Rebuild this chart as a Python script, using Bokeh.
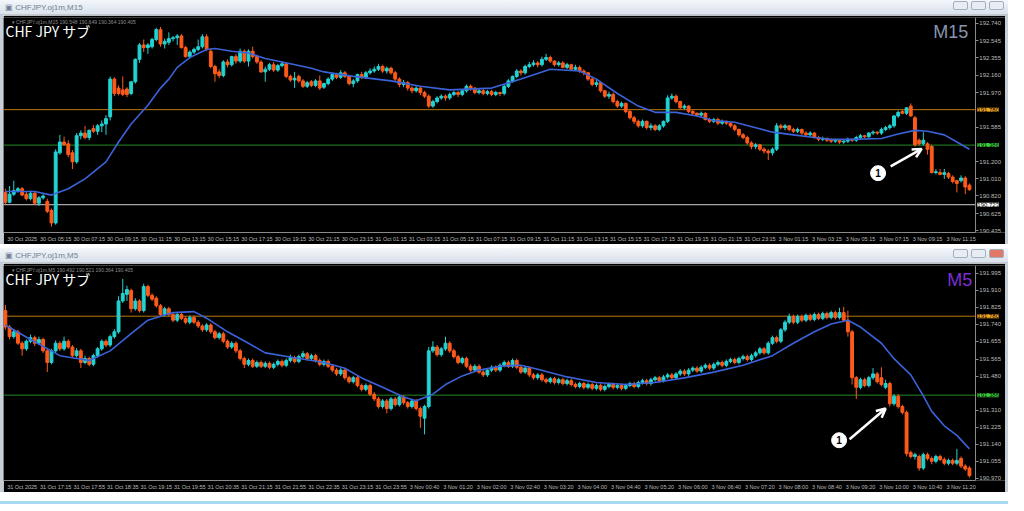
from bokeh.plotting import figure
from bokeh.models import (Range1d, FixedTicker, LinearAxis, Label, Arrow, OpenHead,
                          Div, ColumnDataSource, NumeralTickFormatter)
from bokeh.layouts import column, row
from bokeh.embed import file_html
from bokeh.resources import INLINE
from bokeh.core.properties import value

# ---------------- M15 panel (top) ----------------
top_open = [190.86,190.75,190.84,190.88,190.90,190.84,190.79,190.85,190.74,190.80,
 190.76,190.66,190.52,191.30,191.42,191.40,191.30,191.20,191.49,191.52,
 191.47,191.57,191.54,191.60,191.62,191.70,192.12,192.02,192.00,192.01,
 191.96,192.09,192.34,192.50,192.47,192.48,192.56,192.67,192.51,192.53,
 192.57,192.58,192.60,192.47,192.37,192.42,192.45,192.48,192.59,192.43,
 192.26,192.20,192.16,192.31,192.28,192.37,192.32,192.43,192.32,192.43,
 192.37,192.31,192.20,192.23,192.28,192.22,192.27,192.29,192.15,192.11,
 192.15,192.10,192.04,192.09,192.05,192.10,192.03,192.07,192.12,192.17,
 192.14,192.19,192.15,192.07,192.10,192.17,192.14,192.19,192.21,192.23,
 192.26,192.21,192.24,192.19,192.12,192.06,192.08,192.02,191.99,192.02,
 191.97,191.93,191.82,191.87,191.91,191.93,191.91,191.95,191.97,191.95,
 191.99,192.04,192.02,191.97,191.99,191.96,191.98,191.95,191.97,191.96,
 192.04,192.10,192.15,192.21,192.19,192.26,192.28,192.30,192.28,192.34,
 192.36,192.32,192.28,192.30,192.25,192.28,192.23,192.25,192.21,192.19,
 192.12,192.06,192.08,191.99,191.93,191.95,191.87,191.82,191.85,191.76,
 191.69,191.65,191.60,191.65,191.58,191.60,191.56,191.60,191.65,191.91,
 191.93,191.87,191.80,191.82,191.76,191.74,191.72,191.74,191.67,191.65,
 191.67,191.63,191.65,191.63,191.60,191.56,191.50,191.47,191.41,191.37,
 191.39,191.34,191.32,191.30,191.34,191.60,191.58,191.60,191.56,191.54,
 191.56,191.52,191.50,191.52,191.47,191.45,191.46,191.44,191.43,191.44,
 191.42,191.43,191.45,191.44,191.47,191.49,191.48,191.52,191.53,191.52,
 191.56,191.58,191.60,191.71,191.76,191.74,191.82,191.69,191.44,191.40,
 191.40,191.37,191.08,191.08,191.06,191.07,191.03,190.99,190.99,191.02,
 190.94]
top_high = [190.90,190.93,190.99,190.92,190.92,190.87,190.88,190.87,190.82,190.84,
 190.79,190.68,191.34,191.50,191.48,191.44,191.33,191.52,191.55,191.60,
 191.56,191.61,191.62,191.66,191.72,192.15,192.14,192.05,192.15,192.03,
 192.10,192.35,192.52,192.56,192.52,192.58,192.69,192.70,192.57,192.64,
 192.60,192.62,192.62,192.49,192.44,192.47,192.56,192.62,192.62,192.46,
 192.28,192.23,192.33,192.34,192.38,192.40,192.46,192.45,192.45,192.48,
 192.39,192.33,192.26,192.30,192.31,192.29,192.32,192.31,192.17,192.20,
 192.17,192.12,192.10,192.11,192.12,192.16,192.08,192.14,192.19,192.19,
 192.22,192.21,192.16,192.12,192.18,192.20,192.21,192.24,192.26,192.29,
 192.28,192.26,192.26,192.21,192.14,192.11,192.10,192.04,192.04,192.03,
 191.99,191.95,191.89,191.93,191.95,191.95,191.97,191.99,191.99,192.01,
 192.06,192.06,192.03,192.01,192.01,192.00,192.00,191.99,191.98,192.06,
 192.12,192.16,192.23,192.23,192.28,192.31,192.33,192.32,192.37,192.40,
 192.38,192.33,192.32,192.32,192.30,192.29,192.28,192.27,192.23,192.20,
 192.14,192.11,192.10,192.00,191.98,191.97,191.89,191.87,191.86,191.78,
 191.71,191.67,191.67,191.66,191.63,191.62,191.62,191.66,191.94,191.96,
 191.95,191.88,191.84,191.83,191.78,191.75,191.76,191.75,191.69,191.69,
 191.69,191.67,191.66,191.64,191.62,191.57,191.52,191.49,191.43,191.41,
 191.40,191.36,191.34,191.36,191.63,191.62,191.62,191.61,191.58,191.58,
 191.57,191.54,191.54,191.53,191.49,191.48,191.47,191.46,191.46,191.45,
 191.45,191.47,191.46,191.49,191.51,191.50,191.53,191.55,191.54,191.58,
 191.60,191.62,191.72,191.77,191.78,191.81,191.85,191.71,191.46,191.53,
 191.42,191.39,191.12,191.12,191.12,191.09,191.05,191.00,191.05,191.04,
 190.96]
top_low = [190.73,190.74,190.82,190.86,190.82,190.77,190.77,190.72,190.71,190.78,
 190.63,190.48,190.50,191.28,191.38,191.25,191.12,191.18,191.45,191.45,
 191.44,191.52,191.50,191.53,191.50,191.66,191.93,191.94,191.93,191.92,
 191.94,192.07,192.30,192.42,192.40,192.46,192.54,192.48,192.46,192.50,
 192.54,192.50,192.46,192.36,192.35,192.40,192.43,192.46,192.43,192.24,
 192.09,192.13,192.14,192.25,192.26,192.29,192.30,192.30,192.26,192.35,
 192.29,192.19,192.09,192.21,192.20,192.20,192.25,192.13,192.09,192.02,
 192.08,192.02,192.02,192.03,192.03,192.00,192.01,192.05,192.10,192.12,
 192.12,192.13,192.05,192.03,192.08,192.12,192.12,192.17,192.19,192.21,
 192.19,192.18,192.17,192.10,192.03,192.03,191.99,191.96,191.97,191.94,
 191.91,191.80,191.80,191.85,191.89,191.88,191.89,191.93,191.92,191.93,
 191.97,191.99,191.95,191.95,191.94,191.94,191.93,191.93,191.93,191.94,
 192.02,192.08,192.13,192.16,192.17,192.24,192.26,192.25,192.26,192.32,
 192.30,192.26,192.26,192.24,192.23,192.21,192.21,192.19,192.16,192.10,
 192.04,192.03,191.97,191.91,191.90,191.85,191.80,191.80,191.74,191.67,
 191.62,191.58,191.58,191.56,191.55,191.54,191.54,191.58,191.63,191.89,
 191.85,191.79,191.78,191.74,191.72,191.70,191.70,191.66,191.63,191.63,
 191.61,191.61,191.61,191.58,191.54,191.48,191.45,191.39,191.34,191.34,
 191.32,191.29,191.22,191.27,191.32,191.56,191.55,191.54,191.52,191.52,
 191.50,191.48,191.48,191.46,191.43,191.43,191.42,191.41,191.41,191.40,
 191.40,191.41,191.42,191.42,191.45,191.46,191.46,191.50,191.50,191.50,
 191.54,191.56,191.58,191.69,191.73,191.72,191.70,191.37,191.38,191.38,
 191.28,191.07,191.06,191.05,191.01,191.01,190.96,190.86,190.97,190.84,
 190.88]
top_close = [190.75,190.84,190.88,190.90,190.83,190.79,190.85,190.74,190.80,190.82,
 190.65,190.52,191.31,191.42,191.39,191.28,191.20,191.49,191.52,191.47,
 191.55,191.54,191.60,191.62,191.68,192.12,191.96,191.96,191.95,191.95,
 192.09,192.34,192.50,192.47,192.50,192.56,192.67,192.51,192.54,192.57,
 192.58,192.60,192.47,192.37,192.42,192.45,192.48,192.59,192.45,192.26,
 192.18,192.16,192.31,192.28,192.37,192.32,192.43,192.32,192.43,192.37,
 192.31,192.20,192.23,192.28,192.22,192.27,192.29,192.15,192.11,192.13,
 192.10,192.04,192.08,192.05,192.10,192.02,192.07,192.12,192.17,192.14,
 192.19,192.15,192.07,192.10,192.17,192.14,192.19,192.21,192.23,192.26,
 192.21,192.24,192.19,192.12,192.06,192.08,192.02,191.99,192.02,191.97,
 191.93,191.82,191.87,191.91,191.93,191.91,191.95,191.97,191.95,191.99,
 192.04,192.02,191.97,191.99,191.96,191.98,191.95,191.97,191.96,192.04,
 192.10,192.15,192.21,192.19,192.26,192.28,192.30,192.28,192.34,192.36,
 192.32,192.28,192.30,192.25,192.28,192.23,192.25,192.21,192.19,192.12,
 192.06,192.08,191.99,191.93,191.95,191.87,191.82,191.85,191.76,191.69,
 191.65,191.60,191.65,191.58,191.60,191.56,191.60,191.65,191.91,191.93,
 191.87,191.80,191.82,191.76,191.74,191.72,191.74,191.67,191.65,191.67,
 191.63,191.65,191.63,191.60,191.56,191.50,191.47,191.41,191.37,191.39,
 191.34,191.32,191.30,191.34,191.60,191.58,191.60,191.56,191.54,191.56,
 191.52,191.50,191.52,191.47,191.45,191.46,191.44,191.43,191.44,191.42,
 191.43,191.45,191.44,191.47,191.49,191.48,191.52,191.53,191.52,191.56,
 191.58,191.60,191.71,191.75,191.74,191.80,191.71,191.39,191.40,191.44,
 191.34,191.08,191.09,191.06,191.08,191.03,190.98,190.96,191.02,190.92,
 190.89]
top_ma_idx = [0,7,11,15,19,24,27,30,34,37,39,41,44,48,50,54,58,62,68,73,76,83,92,99,106,
              116,123,130,137,141,146,151,155,160,165,169,174,179,183,188,193,197,202,209,213,
              217,220,224,227,230]
top_ma = [190.87,190.87,190.83,190.90,191.01,191.20,191.42,191.62,191.83,192.02,
          192.12,192.25,192.36,192.45,192.46,192.43,192.41,192.35,192.29,192.24,
          192.20,192.15,192.10,192.04,192.00,192.02,192.12,192.23,192.21,192.12,
          191.96,191.82,191.75,191.75,191.71,191.66,191.64,191.58,191.53,191.50,
          191.47,191.45,191.45,191.46,191.51,191.55,191.54,191.50,191.42,191.34]
top_yticks = [192.740, 192.545, 192.355, 192.160, 191.970, 191.585, 191.200,
              191.010, 190.820, 190.625, 190.435]
top_xlabels = ["30 Oct 2025", "30 Oct 05:15", "30 Oct 07:15", "30 Oct 09:15", "30 Oct 11:15",
               "30 Oct 13:15", "30 Oct 15:15", "30 Oct 17:15", "30 Oct 19:15", "30 Oct 21:15",
               "30 Oct 23:15", "31 Oct 01:15", "31 Oct 03:15", "31 Oct 05:15", "31 Oct 07:15",
               "31 Oct 09:15", "31 Oct 11:15", "31 Oct 13:15", "31 Oct 15:15", "31 Oct 17:15",
               "31 Oct 19:15", "31 Oct 21:15", "31 Oct 23:15", "3 Nov 01:15", "3 Nov 03:15",
               "3 Nov 05:15", "3 Nov 07:15", "3 Nov 09:15", "3 Nov 11:15"]
top_levels = [191.780, 191.386, 190.723]

# ---------------- M5 panel (bottom) ----------------
bot_open = [191.808,191.726,191.678,191.702,191.645,191.617,191.655,191.673,191.645,191.664,
 191.607,191.549,191.607,191.645,191.617,191.655,191.626,191.583,191.607,191.549,
 191.569,191.540,191.583,191.617,191.655,191.636,191.678,191.702,191.856,191.889,
 191.908,191.817,191.856,191.808,191.928,191.884,191.870,191.832,191.788,191.817,
 191.788,191.760,191.788,191.769,191.750,191.774,191.750,191.731,191.712,191.736,
 191.702,191.673,191.692,191.655,191.626,191.645,191.607,191.569,191.540,191.559,
 191.530,191.549,191.530,191.545,191.525,191.540,191.554,191.535,191.559,191.573,
 191.554,191.578,191.593,191.569,191.583,191.559,191.540,191.554,191.530,191.511,
 191.492,191.511,191.473,191.453,191.473,191.434,191.415,191.434,191.391,191.367,
 191.329,191.357,191.319,191.367,191.338,191.377,191.348,191.329,191.357,191.319,
 191.271,191.329,191.607,191.626,191.588,191.617,191.645,191.607,191.578,191.549,
 191.569,191.530,191.511,191.530,191.501,191.487,191.511,191.525,191.511,191.535,
 191.549,191.530,191.559,191.525,191.501,191.521,191.487,191.473,191.487,191.463,
 191.453,191.468,191.449,191.463,191.444,191.458,191.439,191.429,191.444,191.425,
 191.439,191.420,191.434,191.415,191.429,191.439,191.425,191.434,191.420,191.434,
 191.444,191.429,191.449,191.458,191.444,191.463,191.473,191.458,191.477,191.487,
 191.473,191.492,191.506,191.492,191.511,191.521,191.506,191.525,191.535,191.521,
 191.540,191.549,191.535,191.554,191.564,191.549,191.569,191.578,191.564,191.583,
 191.597,191.617,191.597,191.645,191.673,191.655,191.712,191.750,191.779,191.750,
 191.779,191.760,191.784,191.764,191.788,191.769,191.793,191.774,191.798,191.774,
 191.798,191.760,191.702,191.473,191.425,191.463,191.434,191.473,191.492,191.473,
 191.425,191.444,191.343,191.381,191.329,191.300,191.099,191.080,191.080,191.022,
 191.089,191.070,191.056,191.080,191.065,191.046,191.060,191.046,191.070,191.032,
 191.022]
bot_high = [191.836,191.736,191.716,191.712,191.655,191.664,191.688,191.683,191.678,191.673,
 191.617,191.617,191.659,191.655,191.678,191.664,191.636,191.621,191.617,191.583,
 191.578,191.593,191.626,191.664,191.664,191.688,191.716,191.880,191.966,191.932,
 191.918,191.870,191.865,191.942,191.937,191.894,191.880,191.841,191.827,191.827,
 191.798,191.798,191.798,191.779,191.784,191.784,191.760,191.740,191.745,191.745,
 191.712,191.702,191.702,191.664,191.655,191.655,191.617,191.578,191.569,191.569,
 191.559,191.559,191.554,191.554,191.549,191.564,191.564,191.569,191.588,191.583,
 191.588,191.607,191.602,191.593,191.593,191.569,191.564,191.564,191.540,191.521,
 191.521,191.521,191.482,191.482,191.482,191.444,191.444,191.444,191.401,191.377,
 191.367,191.367,191.377,191.377,191.386,191.386,191.357,191.367,191.367,191.329,
 191.338,191.626,191.655,191.636,191.626,191.678,191.655,191.617,191.588,191.578,
 191.578,191.540,191.540,191.540,191.511,191.521,191.535,191.535,191.545,191.559,
 191.559,191.569,191.569,191.535,191.530,191.530,191.497,191.497,191.497,191.473,
 191.477,191.477,191.473,191.473,191.468,191.468,191.449,191.453,191.453,191.449,
 191.449,191.444,191.444,191.439,191.449,191.449,191.444,191.444,191.444,191.453,
 191.453,191.458,191.468,191.468,191.473,191.482,191.482,191.487,191.497,191.497,
 191.501,191.516,191.516,191.521,191.530,191.530,191.535,191.545,191.545,191.549,
 191.559,191.559,191.564,191.573,191.573,191.578,191.588,191.588,191.593,191.607,
 191.626,191.626,191.655,191.683,191.683,191.721,191.760,191.793,191.788,191.788,
 191.788,191.793,191.793,191.798,191.798,191.803,191.803,191.808,191.808,191.822,
 191.827,191.808,191.712,191.482,191.473,191.473,191.482,191.521,191.501,191.525,
 191.463,191.453,191.391,191.391,191.338,191.309,191.109,191.099,191.089,191.099,
 191.099,191.080,191.089,191.089,191.075,191.070,191.070,191.118,191.080,191.041,
 191.032]
bot_low = [191.712,191.664,191.668,191.636,191.583,191.607,191.645,191.631,191.636,191.597,
 191.501,191.540,191.597,191.607,191.607,191.617,191.573,191.573,191.521,191.540,
 191.530,191.530,191.573,191.607,191.626,191.626,191.668,191.692,191.846,191.856,
 191.798,191.808,191.798,191.798,191.875,191.856,191.822,191.779,191.779,191.779,
 191.750,191.750,191.760,191.740,191.740,191.740,191.721,191.702,191.702,191.692,
 191.664,191.664,191.645,191.617,191.617,191.597,191.559,191.521,191.530,191.521,
 191.521,191.521,191.521,191.516,191.516,191.530,191.525,191.525,191.549,191.545,
 191.545,191.569,191.559,191.559,191.549,191.530,191.530,191.521,191.501,191.482,
 191.482,191.463,191.444,191.444,191.425,191.405,191.405,191.381,191.357,191.319,
 191.319,191.295,191.309,191.329,191.329,191.338,191.319,191.319,191.309,191.223,
 191.190,191.319,191.597,191.578,191.578,191.607,191.597,191.569,191.540,191.540,
 191.521,191.501,191.501,191.492,191.477,191.477,191.501,191.501,191.501,191.525,
 191.521,191.521,191.516,191.492,191.492,191.477,191.463,191.463,191.453,191.444,
 191.444,191.439,191.439,191.434,191.434,191.429,191.420,191.420,191.415,191.415,
 191.410,191.410,191.405,191.405,191.420,191.415,191.415,191.410,191.410,191.425,
 191.420,191.420,191.439,191.434,191.434,191.453,191.449,191.449,191.468,191.463,
 191.463,191.482,191.482,191.482,191.501,191.497,191.497,191.516,191.511,191.511,
 191.530,191.525,191.525,191.545,191.540,191.540,191.559,191.554,191.554,191.573,
 191.588,191.588,191.588,191.636,191.645,191.645,191.702,191.740,191.740,191.740,
 191.750,191.750,191.755,191.755,191.760,191.760,191.764,191.764,191.764,191.764,
 191.750,191.678,191.439,191.367,191.415,191.425,191.425,191.463,191.444,191.429,
 191.415,191.329,191.333,191.319,191.290,191.080,191.070,191.065,191.008,191.013,
 191.060,191.041,191.046,191.056,191.036,191.036,191.036,191.036,191.022,191.008,
 190.975]
bot_close = [191.726,191.678,191.702,191.645,191.617,191.655,191.673,191.645,191.664,191.607,
 191.549,191.607,191.645,191.617,191.655,191.626,191.583,191.607,191.549,191.569,
 191.540,191.583,191.617,191.655,191.636,191.678,191.702,191.856,191.894,191.913,
 191.817,191.856,191.808,191.928,191.884,191.865,191.832,191.788,191.817,191.788,
 191.760,191.788,191.769,191.750,191.774,191.750,191.731,191.712,191.736,191.702,
 191.673,191.692,191.655,191.626,191.645,191.607,191.569,191.540,191.559,191.530,
 191.549,191.530,191.545,191.525,191.540,191.554,191.535,191.559,191.573,191.554,
 191.578,191.593,191.569,191.583,191.559,191.540,191.554,191.530,191.511,191.492,
 191.511,191.473,191.453,191.473,191.434,191.415,191.434,191.391,191.367,191.329,
 191.357,191.319,191.367,191.338,191.377,191.348,191.329,191.357,191.319,191.281,
 191.329,191.607,191.626,191.588,191.617,191.645,191.607,191.578,191.549,191.569,
 191.530,191.511,191.530,191.501,191.487,191.511,191.525,191.511,191.535,191.549,
 191.530,191.559,191.525,191.501,191.521,191.487,191.473,191.487,191.463,191.453,
 191.468,191.449,191.463,191.444,191.458,191.439,191.429,191.444,191.425,191.439,
 191.420,191.434,191.415,191.429,191.439,191.425,191.434,191.420,191.434,191.444,
 191.429,191.449,191.458,191.444,191.463,191.473,191.458,191.477,191.487,191.473,
 191.492,191.506,191.492,191.511,191.521,191.506,191.525,191.535,191.521,191.540,
 191.549,191.535,191.554,191.564,191.549,191.569,191.578,191.564,191.583,191.597,
 191.617,191.597,191.645,191.673,191.655,191.712,191.750,191.779,191.750,191.779,
 191.760,191.784,191.764,191.788,191.769,191.793,191.774,191.798,191.774,191.798,
 191.760,191.702,191.473,191.425,191.463,191.434,191.473,191.492,191.453,191.439,
 191.444,191.343,191.381,191.329,191.300,191.094,191.080,191.089,191.022,191.089,
 191.070,191.056,191.080,191.065,191.046,191.060,191.046,191.060,191.032,191.017,
 190.984]
bot_ma_idx = [0,6,13,20,25,30,34,40,45,48,53,58,62,69,76,81,85,90,95,98,102,105,109,113,118,
              123,127,134,141,148,155,162,169,176,183,188,193,197,201,204,209,212,216,219,221,
              224,227,230]
bot_ma = [191.736,191.664,191.583,191.559,191.607,191.693,191.760,191.798,191.803,191.770,
          191.702,191.645,191.597,191.573,191.549,191.520,191.472,191.425,191.377,191.358,
          191.391,191.439,191.482,191.511,191.530,191.535,191.515,191.477,191.449,191.439,
          191.449,191.472,191.501,191.535,191.583,191.645,191.702,191.741,191.760,191.726,
          191.645,191.568,191.487,191.382,191.305,191.233,191.185,191.118]
bot_yticks = [191.995, 191.910, 191.825, 191.740, 191.655, 191.565, 191.480,
              191.310, 191.225, 191.140, 191.055, 190.970]
bot_xlabels = ["31 Oct 2025", "31 Oct 17:15", "31 Oct 17:55", "31 Oct 18:35", "31 Oct 19:15",
               "31 Oct 19:55", "31 Oct 20:35", "31 Oct 21:15", "31 Oct 21:55", "31 Oct 22:35",
               "31 Oct 23:15", "31 Oct 23:55", "3 Nov 00:40", "3 Nov 01:20", "3 Nov 02:00",
               "3 Nov 02:40", "3 Nov 03:20", "3 Nov 04:00", "3 Nov 04:40", "3 Nov 05:20",
               "3 Nov 06:00", "3 Nov 06:40", "3 Nov 07:20", "3 Nov 08:00", "3 Nov 08:40",
               "3 Nov 09:20", "3 Nov 10:00", "3 Nov 10:40", "3 Nov 11:20"]
bot_levels = [191.780, 191.386]

# annotation anchors (bar index, price)
top_arrow = (211.2, 191.149, 218.6, 191.344)
top_badge = (208.2, 191.074)
bot_arrow = (201.4, 191.166, 210.0, 191.319)
bot_badge = (198.9, 191.161)

BULL = "#22d3d3"
BEAR = "#ff5a1a"
MA_COLOR = "#3b63d9"
AX = "#8a8a8a"
TXT = "#bcbcbc"
FONT = "Liberation Sans"
LEVEL_STYLE = {191.780: ("#b8780c", "#f5a623"),
               191.386: ("#238a23", "#3ccf3c"),
               190.723: ("#d0d0d0", "#ffffff")}
X_START = -0.45
X_AXIS = 231.4      # price scale position (right edge of the bar area)
X_END = 238.6       # includes the price-label strip


def panel(o, h, l, c, ma_i, ma_v, y_lo, y_hi, yticks, xlabels, levels,
          tf, tf_color, tf_dx, header, arrow, badge, height):
    xs = list(range(len(c)))
    src = ColumnDataSource(dict(
        x=xs, h=h, l=l,
        top=[max(a, b) for a, b in zip(o, c)],
        bot=[min(a, b) for a, b in zip(o, c)],
        col=[BULL if c[k] >= o[k] else BEAR for k in xs]))
    p = figure(width=1002, height=height, x_range=Range1d(X_START, X_END),
               y_range=Range1d(y_lo, y_hi), output_backend="svg", toolbar_location=None,
               x_axis_location=None, y_axis_location=None,
               background_fill_color="#000000", border_fill_color="#000000",
               min_border_left=0, min_border_right=0, min_border_top=2, min_border_bottom=2)
    p.outline_line_color = None
    p.grid.visible = False

    yax = LinearAxis(ticker=FixedTicker(ticks=yticks), formatter=NumeralTickFormatter(format="0.000"),
                     fixed_location=X_AXIS,
                     axis_line_color=AX, major_tick_line_color=AX, major_tick_out=3, major_tick_in=0,
                     minor_tick_line_color=None, major_label_text_color=TXT,
                     major_label_text_font_size="6px", major_label_text_font=FONT,
                     major_label_standoff=1)
    p.add_layout(yax, "right")

    shift = 4
    xt = [8 * k + shift for k in range(len(xlabels))]
    xax = LinearAxis(ticker=FixedTicker(ticks=xt),
                     major_label_overrides={t: s for t, s in zip(xt, xlabels)},
                     bounds=(X_START, X_AXIS),
                     axis_line_color=AX, major_tick_line_color=None, major_tick_out=0,
                     major_tick_in=0, minor_tick_line_color=None, major_label_text_color=TXT,
                     major_label_text_font_size="5.5px", major_label_text_font=FONT,
                     major_label_standoff=3)
    p.add_layout(xax, "below")

    for lv in levels:
        lc, tc = LEVEL_STYLE[lv]
        p.segment(x0=[X_START], y0=[lv], x1=[X_AXIS], y1=[lv], line_color=lc, line_width=1)

    p.segment(x0="x", y0="l", x1="x", y1="h", line_color="col", line_width=1, source=src)
    p.vbar(x="x", width=0.68, top="top", bottom="bot", fill_color="col", line_color="col",
           line_width=1, source=src)
    p.line(ma_i, ma_v, line_color=MA_COLOR, line_width=1.6)

    for lv in levels:
        lc, tc = LEVEL_STYLE[lv]
        p.add_layout(Label(x=X_AXIS, y=lv, x_offset=2, text=f"{lv:.3f}", text_font_size="6px",
                           text_font=FONT, text_color="#000000", text_baseline="middle",
                           text_align="left", background_fill_color=tc))

    p.add_layout(Label(x=X_START, y=y_hi, x_offset=8, y_offset=-1, text=header,
                       text_font_size="5px", text_font=FONT, text_color="#8c8c8c",
                       text_baseline="top"))
    p.add_layout(Label(x=X_START, y=y_hi, x_offset=2, y_offset=-3, text="CHF JPY  サブ",
                       text_font_size="14px", text_font="Noto Sans CJK JP", text_color="#ffffff",
                       text_baseline="top"))
    p.add_layout(Label(x=X_AXIS, y=y_hi, x_offset=tf_dx, y_offset=-4, text=tf,
                       text_font_size="18px", text_font=FONT, text_color=tf_color,
                       text_baseline="top", text_align="right"))

    x0, y0, x1, y1 = arrow
    p.add_layout(Arrow(end=OpenHead(size=9, line_color="#ffffff", line_width=2.5),
                       x_start=x0, y_start=y0, x_end=x1, y_end=y1,
                       line_color="#ffffff", line_width=2.5))
    bx, by = badge
    p.scatter([bx], [by], size=15, fill_color="#ffffff", line_color="#ffffff")
    p.text([bx], [by], text=["1"], text_color="#000000", text_align="center",
           text_baseline="middle", text_font_size=value("10px"), text_font=value(FONT),
           text_font_style="bold")
    return p


def title_bar(name, red_close):
    b = ('display:inline-block;width:15px;height:9px;margin-left:3px;'
         'border:1px solid #a3afbf;border-radius:2px;')
    close_bg = "#e07a66" if red_close else "#e8edf3"
    html = (f'<div style="position:relative;width:1008px;height:15px;'
            f'background:linear-gradient(#f4f7fb,#d9e1eb);box-sizing:border-box;'
            f'border-bottom:1px solid #c0c9d4;font-family:Liberation Sans,Arial,sans-serif;'
            f'font-size:8px;color:#6f7f91;">'
            f'<span style="position:absolute;left:5px;top:2px;">&#9635; {name}</span>'
            f'<span style="position:absolute;right:4px;top:1px;">'
            f'<span style="{b}background:#e8edf3;"></span>'
            f'<span style="{b}background:#e8edf3;"></span>'
            f'<span style="{b}background:{close_bg};"></span></span></div>')
    return Div(text=html, width=1008, height=15, margin=0)


def block(w, h, color):
    return Div(text=f'<div style="width:{w}px;height:{h}px;background:{color};"></div>',
               width=w, height=h, margin=0)


H = 229
p1 = panel(top_open, top_high, top_low, top_close, top_ma_idx, top_ma,
           190.414, 192.805, top_yticks, top_xlabels, top_levels,
           "M15", "#8796ad", -7, "\u25be CHFJPY.oj1m,M15  190.548 190.649 190.364 190.405",
           top_arrow, top_badge, H)
p2 = panel(bot_open, bot_high, bot_low, bot_close, bot_ma_idx, bot_ma,
           190.960, 192.033, bot_yticks, bot_xlabels, bot_levels,
           "M5", "#7b2fd2", -3, "\u25be CHFJPY.oj1m,M5  190.492 190.521 190.364 190.405",
           bot_arrow, bot_badge, H)

BORDER = "#c6ced8"
root = column(
    title_bar("CHFJPY.oj1m,M15", False),
    row(block(3, H, BORDER), p1, block(3, H, BORDER), spacing=0),
    block(1008, 4, BORDER),
    title_bar("CHFJPY.oj1m,M5", True),
    row(block(3, H, BORDER), p2, block(3, H, BORDER), spacing=0),
    block(1008, 3, "#a6d9f2"),
    spacing=0)

open("out.html", "w").write(file_html(root, INLINE, title="CHFJPY"))
